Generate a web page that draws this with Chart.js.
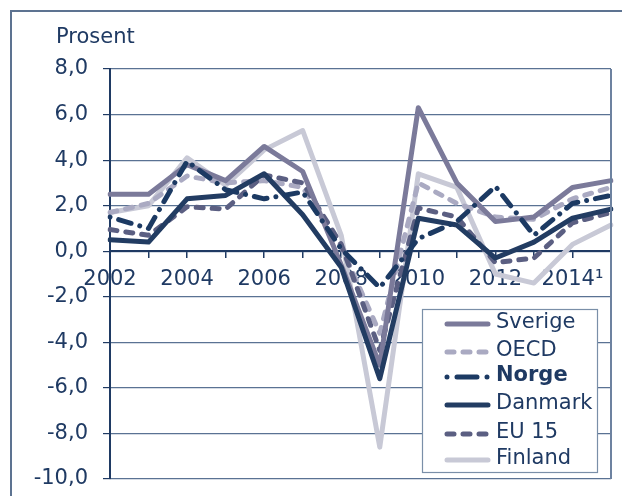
<!DOCTYPE html>
<html><head><meta charset="utf-8">
<script src="https://cdn.jsdelivr.net/npm/chart.js@4/dist/chart.umd.min.js"></script>
<style>html,body{margin:0;padding:0;background:#fff;}#wrap{width:622px;height:496px;position:relative;}</style>
</head><body><div id="wrap"><canvas id="c" width="622" height="496"></canvas></div>
<script>
const years = ['2002','2003','2004','2005','2006','2007','2008','2009','2010','2011','2012','2013','2014','2015'];
const tickLabels = ['2002','','2004','','2006','','2008','','2010','','2012','','2014\u00b9',''];
const seriesNames = ['Sverige','OECD','Norge','Danmark','EU 15','Finland'];
const sverige = [2.5,2.5,3.8,3.1,4.6,3.5,-0.6,-5.0,6.3,3.0,1.3,1.5,2.8,3.1];
const oecd    = [1.7,2.1,3.3,3.0,3.1,2.8,0.2,-3.6,3.0,2.1,1.5,1.4,2.3,2.8];
const norge   = [1.5,1.0,3.95,2.7,2.3,2.6,0.1,-1.6,0.55,1.3,2.85,0.7,2.1,2.45];
const danmark = [0.5,0.4,2.3,2.45,3.4,1.6,-0.7,-5.6,1.45,1.15,-0.3,0.4,1.45,1.85];
const eu15    = [0.95,0.7,1.95,1.85,3.35,3.0,0.3,-4.35,1.9,1.5,-0.5,-0.3,1.25,1.7];
const finland = [1.7,2.0,4.1,2.9,4.45,5.3,0.7,-8.6,3.4,2.8,-1.0,-1.4,0.3,1.15];

const NAVY = '#1f3a63';
const FONT = 'DejaVu Sans';
const FS = 21;

function ds(label, data, color, width, dash, order, legendDash) {
  return {label, data, borderColor: color, backgroundColor: color, borderWidth: width,
    borderDash: dash, borderCapStyle: 'round', borderJoinStyle: 'round',
    pointRadius: 0, pointHoverRadius: 0, tension: 0, fill: false, order, legendDash};
}

const datasets = [
  ds(seriesNames[0], sverige, '#7b7a9a', 5, [], 2, []),
  ds(seriesNames[1], oecd, '#aaaac2', 5, [7, 9], 4, [7, 9]),
  ds(seriesNames[2], norge, '#1c3a63', 5, [0.01, 9, 13, 9], 0, [0, 10, 20, 10]),
  ds(seriesNames[3], danmark, '#223c62', 5, [], 1, []),
  ds(seriesNames[4], eu15, '#5b5f82', 5, [7, 9], 3, [7, 9]),
  ds(seriesNames[5], finland, '#c8c9d6', 5, [], 5, [])
];

const deco = {
  id: 'deco',
  beforeDraw(chart) {
    const c = chart.ctx;
    c.save();
    c.fillStyle = '#fff';
    c.fillRect(0, 0, chart.width, chart.height);
    c.strokeStyle = '#5d7391';
    c.lineWidth = 2;
    c.beginPath();
    c.moveTo(11, 500); c.lineTo(11, 11); c.lineTo(630, 11);
    c.stroke();
    c.fillStyle = NAVY;
    c.font = FS + 'px "' + FONT + '"';
    c.textBaseline = 'alphabetic';
    c.textAlign = 'left';
    c.fillText('Prosent', 56, 43);
    c.restore();
  },
  afterDraw(chart) {
    const c = chart.ctx;
    const a = chart.chartArea;
    c.save();
    c.strokeStyle = '#6d82a0';
    c.lineWidth = 2;
    c.beginPath();
    c.moveTo(a.right, a.top); c.lineTo(a.right, a.bottom);
    c.stroke();
    // legend
    const bx = 422.5, by = 309.5, bw = 175, bh = 163;
    c.fillStyle = '#fff';
    c.fillRect(bx, by, bw, bh);
    c.strokeStyle = '#7a8fa8';
    c.lineWidth = 1.2;
    c.strokeRect(bx, by, bw, bh);
    const rows = [324, 352, 377, 405, 434, 460];
    chart.data.datasets.forEach((d, i) => {
      const y = rows[i];
      c.strokeStyle = d.borderColor;
      c.lineWidth = d.borderWidth;
      c.lineCap = 'round';
      c.setLineDash(d.legendDash);
      c.beginPath();
      c.moveTo(447, y); c.lineTo(488, y);
      c.stroke();
      c.setLineDash([]);
      c.fillStyle = NAVY;
      c.font = (d.label === 'Norge' ? 'bold ' : '') + FS + 'px "' + FONT + '"';
      c.textBaseline = 'middle';
      c.textAlign = 'left';
      c.fillText(d.label, 496, y - 1);
    });
    c.restore();
  }
};

new Chart(document.getElementById('c'), {
  type: 'line',
  data: {labels: years, datasets},
  options: {
    responsive: false,
    animation: false,
    events: [],
    layout: {padding: {top: 69, right: 11, bottom: 17, left: 0}},
    plugins: {legend: {display: false}, tooltip: {enabled: false}, title: {display: false}},
    scales: {
      x: {
        type: 'category',
        position: {y: 0},
        offset: false,
        grid: {drawOnChartArea: false, drawTicks: true, tickLength: 6, color: NAVY, tickColor: NAVY, lineWidth: 1.5},
        border: {display: true, color: NAVY, width: 2},
        ticks: {autoSkip: false, maxRotation: 0, minRotation: 0, padding: 10, color: NAVY,
          font: {family: FONT, size: FS}, callback: (v, i) => tickLabels[i]},
        afterFit: s => { s.height = 0; s.paddingLeft = 0; s.paddingRight = 0; }
      },
      y: {
        min: -10, max: 8,
        grid: {color: '#5a7293', lineWidth: 1.2, tickLength: 7, drawTicks: true, tickColor: NAVY},
        border: {display: true, color: NAVY, width: 2},
        ticks: {stepSize: 2, padding: 15, color: NAVY, font: {family: FONT, size: FS},
          callback: v => v.toFixed(1).replace('.', ',')},
        afterFit: s => { s.width = 110; s.paddingTop = 0; s.paddingBottom = 0; }
      }
    }
  },
  plugins: [deco]
});
</script>
</body></html>
